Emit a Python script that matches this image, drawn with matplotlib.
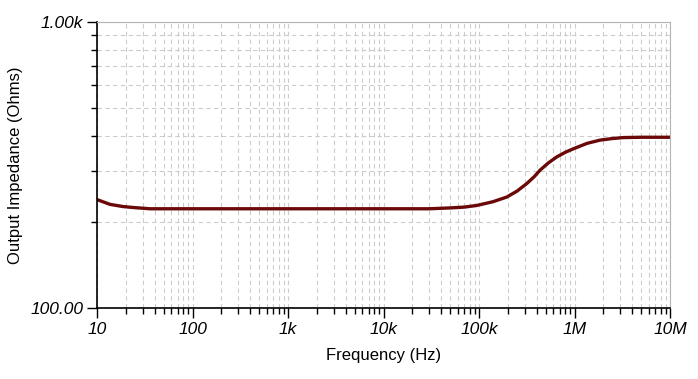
import matplotlib
matplotlib.use('Agg')
import matplotlib.pyplot as plt
from matplotlib.ticker import FixedLocator, LogLocator, NullFormatter

# Données
freq = [10, 13.7, 18.7, 25, 36, 60, 100, 1e3, 1e4, 14.9e3, 30e3, 49.7e3, 70e3,
        94.6e3, 140e3, 195e3, 250e3, 316e3, 380e3, 435e3, 530e3, 650e3, 800e3,
        972e3, 1.35e6, 1.85e6, 2.5e6, 3.25e6, 5e6, 10e6]
impedance = [239, 230, 226, 224, 222, 222, 222, 222, 222, 222, 222, 223.5, 225,
             228, 235, 244, 256, 272, 288, 303, 321, 337, 350,
             360, 376, 386, 391, 394, 395, 395]

x_ticks = [10, 100, 1e3, 1e4, 1e5, 1e6, 1e7]
x_labels = ['10', '100', '1k', '10k', '100k', '1M', '10M']
y_ticks = [100, 1000]
y_labels = ['100.00', '1.00k']

plt.rcParams['font.family'] = ['Liberation Sans', 'DejaVu Sans']

fig = plt.figure(figsize=(6.98, 3.79), dpi=100)
ax = fig.add_axes([0.139, 0.188, 0.821, 0.754])

ax.plot(freq, impedance, color='#6b0808', linewidth=2.4, solid_joinstyle='round')

ax.set_xscale('log')
ax.set_yscale('log')
ax.set_xlim(10, 1e7)
ax.set_ylim(100, 1000)

ax.xaxis.set_major_locator(FixedLocator(x_ticks))
ax.set_xticklabels(x_labels, style='italic', fontsize=12.5)
ax.yaxis.set_major_locator(FixedLocator(y_ticks))
ax.set_yticklabels(y_labels, style='italic', fontsize=12.5)
ax.xaxis.set_minor_locator(LogLocator(base=10, subs=range(2, 10), numticks=20))
ax.yaxis.set_minor_locator(LogLocator(base=10, subs=range(2, 10), numticks=20))
ax.xaxis.set_minor_formatter(NullFormatter())
ax.yaxis.set_minor_formatter(NullFormatter())

ax.tick_params(which='major', direction='out', length=7, width=1, color='black', pad=3)
ax.tick_params(which='minor', direction='out', length=4, width=1, color='black')

ax.grid(which='both', color='#cccccc', linestyle=(0, (4, 3)), linewidth=0.8)
ax.set_axisbelow(True)

for s in ['top', 'right']:
    ax.spines[s].set_color('#b4b4b4')
for s in ['left', 'bottom']:
    ax.spines[s].set_color('black')
    ax.spines[s].set_linewidth(1.2)

ax.set_xlabel('Frequency (Hz)', fontsize=12, labelpad=8)
ax.set_ylabel('Output Impedance (Ohms)', fontsize=12, labelpad=5)

fig.savefig('out.png', dpi=100)
